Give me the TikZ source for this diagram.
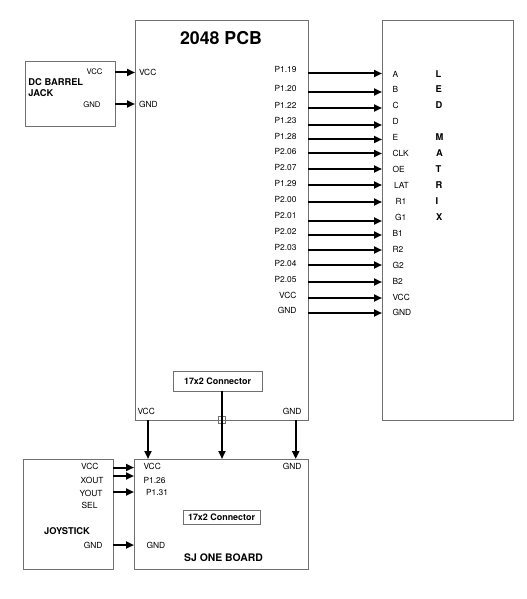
\documentclass[tikz,border=0pt]{standalone}
\usepackage{fontspec}
\setmainfont{TeX Gyre Heros}
\usetikzlibrary{arrows.meta}
\definecolor{boxgray}{RGB}{112,112,112}
\tikzset{every picture/.style={line width=0.75pt}}
\tikzset{
  box/.style={draw=boxgray, line width=0.75pt},
  conbox/.style={draw=boxgray, line width=0.75pt, inner sep=0pt, font=\bfseries\fontsize{6.7}{8}\selectfont},
  pinlbl/.style={inner sep=0pt, font=\fontsize{6.3}{7.5}\selectfont},
  smlbl/.style={inner sep=0pt, font=\fontsize{5.8}{7}\selectfont},
  boldlbl/.style={inner sep=0pt, font=\bfseries\fontsize{7}{8.25}\selectfont},
  titlelbl/.style={inner sep=0pt, font=\bfseries\fontsize{13.3}{15}\selectfont},
  sig/.style={line width=1.5pt, -{Triangle[length=6pt,width=5.25pt]}}
}
\begin{document}
\begin{tikzpicture}[x=0.75pt,y=0.75pt,yscale=-1,xscale=1]
\useasboundingbox (0,0) rectangle (526,599);

%Shape: Rectangle [2048 PCB]
\draw [box] (135,21) rectangle (308,420) ;
%Shape: Rectangle [LED matrix]
\draw [box] (382,21) rectangle (513,420) ;
%Shape: Rectangle [DC barrel jack]
\draw [box] (25,62) rectangle (115,127) ;
%Shape: Rectangle [joystick]
\draw [box] (23,459) rectangle (113,569) ;
%Shape: Rectangle [SJ one board]
\draw [box] (134,459) rectangle (308,569) ;
%Shape: Square [pass-through on the PCB edge]
\draw [box] (218.5,416.5) rectangle (225.5,423.5) ;

% Connector boxes
\node [conbox, minimum width=66.75pt, minimum height=15pt] (pcbconn) at (217.5,381) {17x2 Connector};
\node [conbox, minimum width=57.75pt, minimum height=10.9pt] (sjconn) at (221.5,517.5) {17x2 Connector};

% Titles
\node [titlelbl] (pcbtitle) at (221,38) {2048 PCB};
\node [boldlbl, anchor=west, align=left] (jacktitle) at (28,87.5) {DC BARREL\\JACK};
\node [boldlbl] (joytitle) at (67,531) {JOYSTICK};
\node [boldlbl, font=\bfseries\fontsize{7.8}{9}\selectfont] (sjtitle) at (223.5,558) {SJ ONE BOARD};

% Barrel jack pins
\node [smlbl, anchor=east] (jackvcc) at (103,71.5) {VCC};
\node [smlbl, anchor=east] (jackgnd) at (101,105) {GND};
\node [pinlbl, anchor=west] (pcbvcc) at (138.5,72) {VCC};
\node [pinlbl, anchor=west] (pcbgnd) at (138.5,104) {GND};
\coordinate (jackvccout) at (115,72.5);
\coordinate (jackgndout) at (115,104);
\coordinate (pcbvccin) at (135,72.5);
\coordinate (pcbgndin) at (135,104);
\draw [sig] (jackvccout) -- (pcbvccin) ;
\draw [sig] (jackgndout) -- (pcbgndin) ;

% PCB pins to LED matrix
\node [pinlbl, anchor=east] (p119) at (297,70) {P1.19};
\node [pinlbl, anchor=east] (p120) at (297,89) {P1.20};
\node [pinlbl, anchor=east] (p122) at (297,105) {P1.22};
\node [pinlbl, anchor=east] (p123) at (297,120.5) {P1.23};
\node [pinlbl, anchor=east] (p128) at (297,136.5) {P1.28};
\node [pinlbl, anchor=east] (p206) at (297,152) {P2.06};
\node [pinlbl, anchor=east] (p207) at (297,167.5) {P2.07};
\node [pinlbl, anchor=east] (p129) at (297,184) {P1.29};
\node [pinlbl, anchor=east] (p200) at (297,200) {P2.00};
\node [pinlbl, anchor=east] (p201) at (297,215.5) {P2.01};
\node [pinlbl, anchor=east] (p202) at (297,231.5) {P2.02};
\node [pinlbl, anchor=east] (p203) at (297,247.5) {P2.03};
\node [pinlbl, anchor=east] (p204) at (297,263.5) {P2.04};
\node [pinlbl, anchor=east] (p205) at (297,279.5) {P2.05};
\node [pinlbl, anchor=east] (prvcc) at (297,295) {VCC};
\node [pinlbl, anchor=east] (prgnd) at (297,310.5) {GND};

\node [pinlbl, anchor=west] (ma) at (392,74) {A};
\node [pinlbl, anchor=west] (mb) at (392,89.5) {B};
\node [pinlbl, anchor=west] (mc) at (392,105.5) {C};
\node [pinlbl, anchor=west] (md) at (392,121) {D};
\node [pinlbl, anchor=west] (me) at (392,137) {E};
\node [pinlbl, anchor=west] (mclk) at (392,153) {CLK};
\node [pinlbl, anchor=west] (moe) at (392,169) {OE};
\node [pinlbl, anchor=west] (mlat) at (393.5,185) {LAT};
\node [pinlbl, anchor=west] (mr1) at (395,201) {R1};
\node [pinlbl, anchor=west] (mg1) at (394.5,217) {G1};
\node [pinlbl, anchor=west] (mb1) at (392,233) {B1};
\node [pinlbl, anchor=west] (mr2) at (392,249) {R2};
\node [pinlbl, anchor=west] (mg2) at (392,265) {G2};
\node [pinlbl, anchor=west] (mb2) at (392,281) {B2};
\node [pinlbl, anchor=west] (mvcc) at (392,297) {VCC};
\node [pinlbl, anchor=west] (mgnd) at (392,312) {GND};

\coordinate (o119) at (308,73.5);   \coordinate (ia) at (382,73.5);
\coordinate (o120) at (308,92);     \coordinate (ib) at (382,92);
\coordinate (o122) at (308,108);    \coordinate (ic) at (382,108);
\coordinate (o123) at (308,125);    \coordinate (id) at (382,125);
\coordinate (o128) at (308,139.5);  \coordinate (ie) at (382,139.5);
\coordinate (o206) at (308,153.5);  \coordinate (iclk) at (382,153.5);
\coordinate (o207) at (308,169);    \coordinate (ioe) at (382,169);
\coordinate (o129) at (308,185);    \coordinate (ilat) at (382,185);
\coordinate (o200) at (308,202);    \coordinate (ir1) at (382,202);
\coordinate (o201) at (308,221);    \coordinate (ig1) at (382,221);
\coordinate (o202) at (308,235);    \coordinate (ib1) at (382,235);
\coordinate (o203) at (308,250);    \coordinate (ir2) at (382,250);
\coordinate (o204) at (308,265);    \coordinate (ig2) at (382,265);
\coordinate (o205) at (308,282);    \coordinate (ib2) at (382,282);
\coordinate (orvcc) at (308,298);   \coordinate (ivcc) at (382,298);
\coordinate (orgnd) at (308,313);   \coordinate (ignd) at (382,313);
\draw [sig] (o119) -- (ia) ;
\draw [sig] (o120) -- (ib) ;
\draw [sig] (o122) -- (ic) ;
\draw [sig] (o123) -- (id) ;
\draw [sig] (o128) -- (ie) ;
\draw [sig] (o206) -- (iclk) ;
\draw [sig] (o207) -- (ioe) ;
\draw [sig] (o129) -- (ilat) ;
\draw [sig] (o200) -- (ir1) ;
\draw [sig] (o201) -- (ig1) ;
\draw [sig] (o202) -- (ib1) ;
\draw [sig] (o203) -- (ir2) ;
\draw [sig] (o204) -- (ig2) ;
\draw [sig] (o205) -- (ib2) ;
\draw [sig] (orvcc) -- (ivcc) ;
\draw [sig] (orgnd) -- (ignd) ;

% LED MATRIX lettering
\node [boldlbl, anchor=west] (ledl) at (435,74) {L};
\node [boldlbl, anchor=west] (lede) at (435,89.5) {E};
\node [boldlbl, anchor=west] (ledd) at (435,105.5) {D};
\node [boldlbl, anchor=west] (ledm) at (435,137) {M};
\node [boldlbl, anchor=west] (leda) at (435.5,153) {A};
\node [boldlbl, anchor=west] (ledt) at (435,169) {T};
\node [boldlbl, anchor=west] (ledr) at (435,185) {R};
\node [boldlbl, anchor=west] (ledi) at (435,201) {I};
\node [boldlbl, anchor=west] (ledx) at (435.5,217) {X};

% PCB to SJ one board
\node [pinlbl, anchor=west] (pcbbvcc) at (137,411.5) {VCC};
\node [pinlbl, anchor=east] (pcbbgnd) at (302,411.5) {GND};
\coordinate (pcbbvccout) at (148,420);
\coordinate (pcbbgndout) at (295.7,420);
\coordinate (connout) at (222,391);
\coordinate (sjvccin) at (148,459);
\coordinate (sjgndin) at (295.7,459);
\coordinate (sjconnin) at (222,459);
\draw [sig] (pcbbvccout) -- (sjvccin) ;
\draw [sig] (connout) -- (sjconnin) ;
\draw [sig] (pcbbgndout) -- (sjgndin) ;

% Joystick pins
\node [pinlbl, anchor=east] (joyvcc) at (99,466.5) {VCC};
\node [pinlbl, anchor=east] (joyxout) at (104,480.5) {XOUT};
\node [pinlbl, anchor=east] (joyyout) at (103,493) {YOUT};
\node [pinlbl, anchor=east] (joysel) at (98,505.5) {SEL};
\node [pinlbl, anchor=east] (joygnd) at (103,545) {GND};

% SJ one board pins
\node [pinlbl, anchor=west] (sjvcc) at (143,466.5) {VCC};
\node [pinlbl, anchor=west] (sjp126) at (143,480) {P1.26};
\node [pinlbl, anchor=west] (sjp131) at (145.5,492.5) {P1.31};
\node [pinlbl, anchor=east] (sjgndtop) at (302,466.5) {GND};
\node [pinlbl, anchor=west] (sjgnd) at (146,545) {GND};

\coordinate (joyvccout) at (113,467.5);  \coordinate (sjvccpin) at (134,467.5);
\coordinate (joyxout2) at (113,476);     \coordinate (sjp126pin) at (134,476);
\coordinate (joyyout2) at (113,492);     \coordinate (sjp131pin) at (134,492);
\coordinate (joygndout) at (113,545);    \coordinate (sjgndpin) at (134,545);
\draw [sig] (joyvccout) -- (sjvccpin) ;
\draw [sig] (joyxout2) -- (sjp126pin) ;
\draw [sig] (joyyout2) -- (sjp131pin) ;
\draw [sig] (joygndout) -- (sjgndpin) ;

\end{tikzpicture}
\end{document}
